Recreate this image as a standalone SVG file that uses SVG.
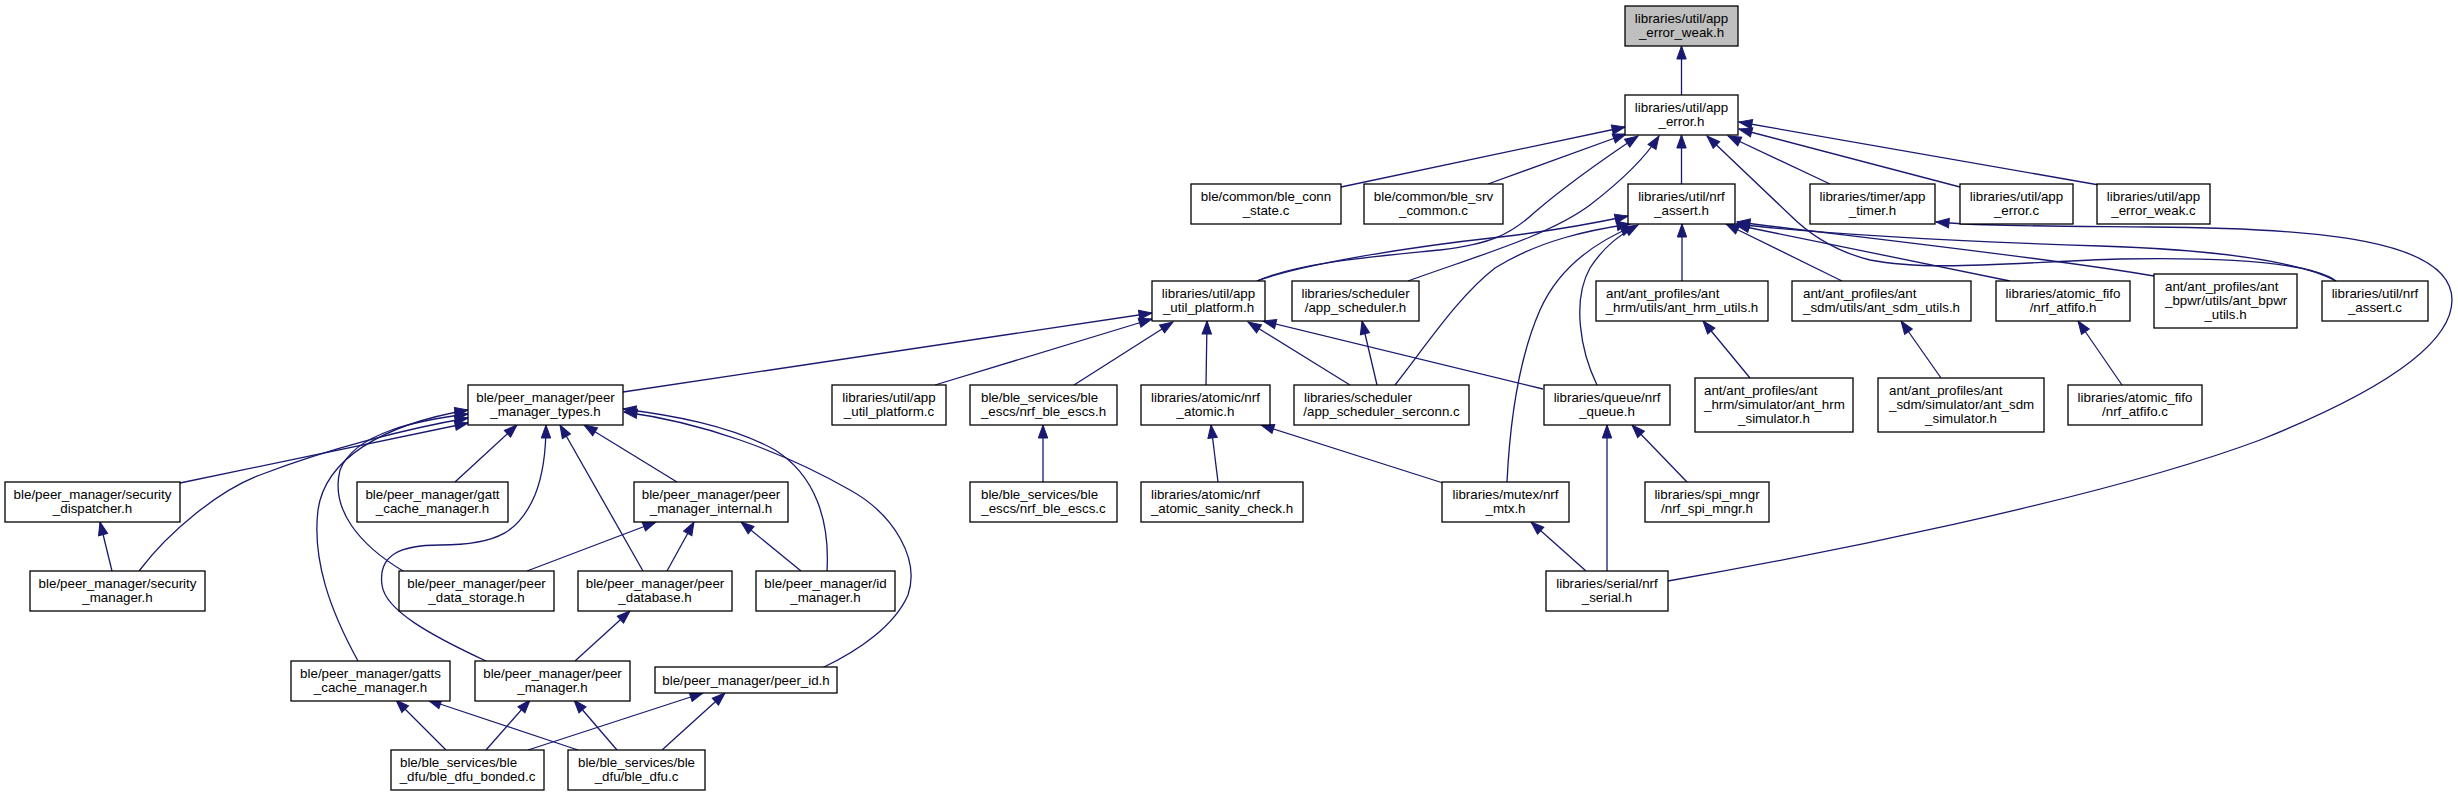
<svg xmlns="http://www.w3.org/2000/svg" width="2458" height="796" viewBox="0 0 2458 796">
<style>
rect{fill:#fff;stroke:#000;stroke-width:1.3}
rect.root{fill:#bfbfbf}
text{font-family:"Liberation Sans",Arial,Helvetica,sans-serif;font-size:13.33px;fill:#000}
.c{text-anchor:middle}
.l{text-anchor:start}
#edges path{fill:none;stroke:#191970;stroke-width:1.3;marker-end:url(#arr)}
</style>
<defs>
<marker id="arr" markerUnits="userSpaceOnUse" markerWidth="16" markerHeight="12" refX="13" refY="4.7" orient="auto" overflow="visible">
<path d="M0,0 L13,4.7 L0,9.4 z" fill="#191970" stroke="#191970" stroke-width="1"/>
</marker>
</defs>
<rect x="0" y="0" width="2458" height="796" style="fill:#fff;stroke:none"/>

<g id="edges">
<path d="M1681.5,95 L1681.5,46"/>
<path d="M1341,187 L1625,127"/>
<path d="M1488,184 L1626,134"/>
<path d="M1257,281 C1300,262 1380,256 1440,250 C1490,244 1510,235 1535,212 C1570,182 1605,158 1638,136"/>
<path d="M1408,281 C1480,255 1550,235 1590,205 C1620,182 1645,158 1659,136"/>
<path d="M1681.5,184 L1681.5,135"/>
<path d="M1830,184 L1728,136"/>
<path d="M1960,187 L1739,129"/>
<path d="M2099,185 L1739,122"/>
<path d="M2336,281 C2310,262 2230,257 2120,259 C2020,262 1930,272 1870,260 C1830,250 1805,230 1790,215 L1707,136"/>
<path d="M2336,281 C2300,262 2220,250 2100,246 C1980,242 1830,235 1736,224"/>
<path d="M2154,276 C2050,258 1850,236 1737,222"/>
<path d="M2010,281 L1736,225"/>
<path d="M1842,281 L1726,224"/>
<path d="M1682,281 L1682,224"/>
<path d="M1257,281 C1300,265 1400,248 1500,237 C1560,230 1600,222 1628,216"/>
<path d="M1395,385 C1430,340 1460,295 1495,268 C1540,240 1590,230 1630,224"/>
<path d="M1507,482 C1510,420 1518,360 1540,310 C1560,265 1600,240 1634,226"/>
<path d="M1597,385 C1580,350 1572,300 1590,268 C1605,245 1620,235 1638,225"/>
<path d="M623,392 L1152,313"/>
<path d="M935,385 L1152,319"/>
<path d="M1074,385 L1173,322"/>
<path d="M1206,385 L1207,321"/>
<path d="M1350,385 L1248,322"/>
<path d="M1543,389 L1263,321"/>
<path d="M1377,385 L1362,321"/>
<path d="M1750,378 L1703,321"/>
<path d="M1941,378 L1901,321"/>
<path d="M2122,385 L2078,321"/>
<path d="M1043,482 L1043,425"/>
<path d="M1218,482 L1211,425"/>
<path d="M1443,483 L1261,425"/>
<path d="M1586,571 L1531,522"/>
<path d="M1607,571 L1607,425"/>
<path d="M1687,482 L1632,425"/>
<path d="M1668,581 C1800,558 2100,500 2260,440 C2380,392 2452,345 2452,300 C2452,240 2320,228 2150,227 C2050,226 1980,226 1936,222"/>
<path d="M180,483 L468,423"/>
<path d="M139,571 C170,530 220,490 260,475 C330,448 410,428 468,418"/>
<path d="M112,571 L100,522"/>
<path d="M358,661 C330,610 312,560 318,510 C325,460 380,425 468,410"/>
<path d="M403,571 C360,545 330,510 340,470 C355,432 420,420 468,414"/>
<path d="M455,482 L517,425"/>
<path d="M486,661 C430,635 385,610 382,585 C378,555 400,545 440,545 C500,545 520,530 535,495 C545,470 546,445 546,425"/>
<path d="M643,571 L560,425"/>
<path d="M677,482 L584,425"/>
<path d="M827,571 C830,520 815,475 775,450 C730,425 670,415 623,409"/>
<path d="M822,668 C860,650 895,625 908,595 C920,560 895,515 850,490 C780,450 700,422 624,412"/>
<path d="M527,571 L656,522"/>
<path d="M667,571 L694,522"/>
<path d="M801,571 L741,522"/>
<path d="M575,661 L630,611"/>
<path d="M446,750 L396,700"/>
<path d="M578,750 L428,700"/>
<path d="M486,750 L530,700"/>
<path d="M617,750 L574,700"/>
<path d="M528,750 L703,693"/>
<path d="M662,750 L725,693"/>
</g>

<g id="n_app_error_weak_h"><rect class="root" x="1625" y="6" width="113" height="40"/><text class="c" x="1681.5" y="22.5">libraries/util/app</text><text class="c" x="1681.5" y="36.5">_error_weak.h</text></g>
<g id="n_app_error_h"><rect x="1625" y="95" width="113" height="40"/><text class="c" x="1681.5" y="111.5">libraries/util/app</text><text class="c" x="1681.5" y="125.5">_error.h</text></g>

<g id="n_ble_conn_state_c"><rect x="1191" y="184" width="150" height="40"/><text class="c" x="1266" y="200.5">ble/common/ble_conn</text><text class="c" x="1266" y="214.5">_state.c</text></g>
<g id="n_ble_srv_common_c"><rect x="1364" y="184" width="139" height="40"/><text class="c" x="1433.5" y="200.5">ble/common/ble_srv</text><text class="c" x="1433.5" y="214.5">_common.c</text></g>
<g id="n_nrf_assert_h"><rect x="1628" y="184" width="107" height="40"/><text class="c" x="1681.5" y="200.5">libraries/util/nrf</text><text class="c" x="1681.5" y="214.5">_assert.h</text></g>
<g id="n_app_timer_h"><rect x="1810" y="184" width="125" height="40"/><text class="c" x="1872.5" y="200.5">libraries/timer/app</text><text class="c" x="1872.5" y="214.5">_timer.h</text></g>
<g id="n_app_error_c"><rect x="1960" y="184" width="113" height="40"/><text class="c" x="2016.5" y="200.5">libraries/util/app</text><text class="c" x="2016.5" y="214.5">_error.c</text></g>
<g id="n_app_error_weak_c"><rect x="2097" y="184" width="113" height="40"/><text class="c" x="2153.5" y="200.5">libraries/util/app</text><text class="c" x="2153.5" y="214.5">_error_weak.c</text></g>

<g id="n_app_util_platform_h"><rect x="1152" y="281" width="113" height="40"/><text class="c" x="1208.5" y="297.5">libraries/util/app</text><text class="c" x="1208.5" y="311.5">_util_platform.h</text></g>
<g id="n_app_scheduler_h"><rect x="1292" y="281" width="127" height="40"/><text class="c" x="1355.5" y="297.5">libraries/scheduler</text><text class="c" x="1355.5" y="311.5">/app_scheduler.h</text></g>
<g id="n_ant_hrm_utils_h"><rect x="1596" y="281" width="172" height="40"/><text class="l" x="1606" y="297.5">ant/ant_profiles/ant</text><text class="c" x="1682" y="311.5">_hrm/utils/ant_hrm_utils.h</text></g>
<g id="n_ant_sdm_utils_h"><rect x="1792" y="281" width="179" height="40"/><text class="l" x="1803" y="297.5">ant/ant_profiles/ant</text><text class="c" x="1881.5" y="311.5">_sdm/utils/ant_sdm_utils.h</text></g>
<g id="n_nrf_atfifo_h"><rect x="1996" y="281" width="134" height="40"/><text class="c" x="2063" y="297.5">libraries/atomic_fifo</text><text class="c" x="2063" y="311.5">/nrf_atfifo.h</text></g>
<g id="n_ant_bpwr_utils_h"><rect x="2154" y="274" width="143" height="54"/><text class="l" x="2165" y="290.5">ant/ant_profiles/ant</text><text class="l" x="2165" y="304.5">_bpwr/utils/ant_bpwr</text><text class="c" x="2225.5" y="318.5">_utils.h</text></g>
<g id="n_nrf_assert_c"><rect x="2322" y="281" width="106" height="40"/><text class="c" x="2375" y="297.5">libraries/util/nrf</text><text class="c" x="2375" y="311.5">_assert.c</text></g>

<g id="n_peer_manager_types_h"><rect x="468" y="385" width="155" height="40"/><text class="c" x="545.5" y="401.5">ble/peer_manager/peer</text><text class="c" x="545.5" y="415.5">_manager_types.h</text></g>
<g id="n_app_util_platform_c"><rect x="832" y="385" width="114" height="40"/><text class="c" x="889" y="401.5">libraries/util/app</text><text class="c" x="889" y="415.5">_util_platform.c</text></g>
<g id="n_nrf_ble_escs_h"><rect x="970" y="385" width="147" height="40"/><text class="l" x="981" y="401.5">ble/ble_services/ble</text><text class="c" x="1043.5" y="415.5">_escs/nrf_ble_escs.h</text></g>
<g id="n_nrf_atomic_h"><rect x="1141" y="385" width="129" height="40"/><text class="c" x="1205.5" y="401.5">libraries/atomic/nrf</text><text class="c" x="1205.5" y="415.5">_atomic.h</text></g>
<g id="n_app_scheduler_serconn_c"><rect x="1294" y="385" width="175" height="40"/><text class="l" x="1304" y="401.5">libraries/scheduler</text><text class="c" x="1381.5" y="415.5">/app_scheduler_serconn.c</text></g>
<g id="n_nrf_queue_h"><rect x="1544" y="385" width="126" height="40"/><text class="c" x="1607" y="401.5">libraries/queue/nrf</text><text class="c" x="1607" y="415.5">_queue.h</text></g>
<g id="n_ant_hrm_simulator_h"><rect x="1695" y="378" width="158" height="54"/><text class="l" x="1704" y="394.5">ant/ant_profiles/ant</text><text class="l" x="1704" y="408.5">_hrm/simulator/ant_hrm</text><text class="c" x="1774" y="422.5">_simulator.h</text></g>
<g id="n_ant_sdm_simulator_h"><rect x="1878" y="378" width="166" height="54"/><text class="l" x="1889" y="394.5">ant/ant_profiles/ant</text><text class="l" x="1889" y="408.5">_sdm/simulator/ant_sdm</text><text class="c" x="1961" y="422.5">_simulator.h</text></g>
<g id="n_nrf_atfifo_c"><rect x="2068" y="385" width="134" height="40"/><text class="c" x="2135" y="401.5">libraries/atomic_fifo</text><text class="c" x="2135" y="415.5">/nrf_atfifo.c</text></g>

<g id="n_security_dispatcher_h"><rect x="5" y="482" width="175" height="40"/><text class="c" x="92.5" y="498.5">ble/peer_manager/security</text><text class="c" x="92.5" y="512.5">_dispatcher.h</text></g>
<g id="n_gatt_cache_manager_h"><rect x="357" y="482" width="151" height="40"/><text class="c" x="432.5" y="498.5">ble/peer_manager/gatt</text><text class="c" x="432.5" y="512.5">_cache_manager.h</text></g>
<g id="n_peer_manager_internal_h"><rect x="634" y="482" width="154" height="40"/><text class="c" x="711" y="498.5">ble/peer_manager/peer</text><text class="c" x="711" y="512.5">_manager_internal.h</text></g>
<g id="n_nrf_ble_escs_c"><rect x="970" y="482" width="147" height="40"/><text class="l" x="981" y="498.5">ble/ble_services/ble</text><text class="c" x="1043.5" y="512.5">_escs/nrf_ble_escs.c</text></g>
<g id="n_nrf_atomic_sanity_check_h"><rect x="1141" y="482" width="162" height="40"/><text class="l" x="1151" y="498.5">libraries/atomic/nrf</text><text class="c" x="1222" y="512.5">_atomic_sanity_check.h</text></g>
<g id="n_nrf_mtx_h"><rect x="1442" y="482" width="127" height="40"/><text class="c" x="1505.5" y="498.5">libraries/mutex/nrf</text><text class="c" x="1505.5" y="512.5">_mtx.h</text></g>
<g id="n_nrf_spi_mngr_h"><rect x="1645" y="482" width="124" height="40"/><text class="c" x="1707" y="498.5">libraries/spi_mngr</text><text class="c" x="1707" y="512.5">/nrf_spi_mngr.h</text></g>

<g id="n_security_manager_h"><rect x="30" y="571" width="175" height="40"/><text class="c" x="117.5" y="587.5">ble/peer_manager/security</text><text class="c" x="117.5" y="601.5">_manager.h</text></g>
<g id="n_peer_data_storage_h"><rect x="399" y="571" width="155" height="40"/><text class="c" x="476.5" y="587.5">ble/peer_manager/peer</text><text class="c" x="476.5" y="601.5">_data_storage.h</text></g>
<g id="n_peer_database_h"><rect x="578" y="571" width="154" height="40"/><text class="c" x="655" y="587.5">ble/peer_manager/peer</text><text class="c" x="655" y="601.5">_database.h</text></g>
<g id="n_id_manager_h"><rect x="756" y="571" width="139" height="40"/><text class="c" x="825.5" y="587.5">ble/peer_manager/id</text><text class="c" x="825.5" y="601.5">_manager.h</text></g>
<g id="n_nrf_serial_h"><rect x="1546" y="571" width="122" height="40"/><text class="c" x="1607" y="587.5">libraries/serial/nrf</text><text class="c" x="1607" y="601.5">_serial.h</text></g>

<g id="n_gatts_cache_manager_h"><rect x="291" y="661" width="159" height="40"/><text class="c" x="370.5" y="677.5">ble/peer_manager/gatts</text><text class="c" x="370.5" y="691.5">_cache_manager.h</text></g>
<g id="n_peer_manager_h"><rect x="475" y="661" width="155" height="40"/><text class="c" x="552.5" y="677.5">ble/peer_manager/peer</text><text class="c" x="552.5" y="691.5">_manager.h</text></g>
<g id="n_peer_id_h"><rect x="655" y="667" width="182" height="26"/><text class="c" x="746" y="684.5">ble/peer_manager/peer_id.h</text></g>

<g id="n_ble_dfu_bonded_c"><rect x="391" y="750" width="153" height="40"/><text class="l" x="400" y="766.5">ble/ble_services/ble</text><text class="c" x="467.5" y="780.5">_dfu/ble_dfu_bonded.c</text></g>
<g id="n_ble_dfu_c"><rect x="568" y="750" width="137" height="40"/><text class="c" x="636.5" y="766.5">ble/ble_services/ble</text><text class="c" x="636.5" y="780.5">_dfu/ble_dfu.c</text></g>
</svg>
